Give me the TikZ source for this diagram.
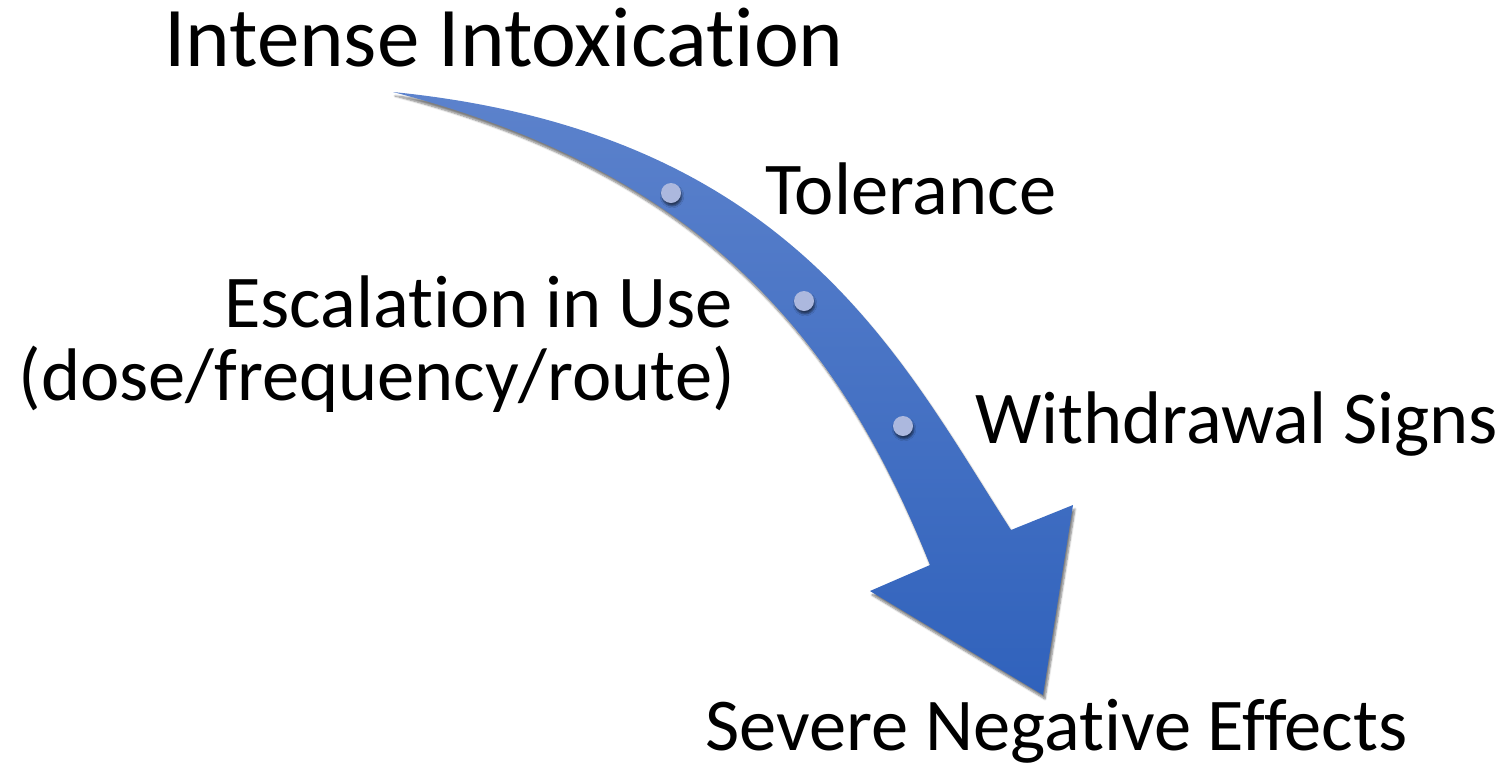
\documentclass[tikz,border=0pt]{standalone}
\usepackage{fontspec}
\setmainfont{Carlito}[Ligatures={NoCommon}]
\usetikzlibrary{shadows.blur}
\definecolor{arrowtop}{RGB}{92,130,204}
\definecolor{arrowbot}{RGB}{48,98,188}
\definecolor{dotfill}{RGB}{172,184,222}
\tikzset{
  arrowbody/.style={top color=arrowtop, bottom color=arrowbot, draw=none,
    blur shadow={shadow xshift=2pt, shadow yshift=-4pt, shadow blur steps=6, shadow opacity=50}},
  stepdot/.style={circle, fill=dotfill, inner sep=0pt, minimum size=20pt,
    blur shadow={shadow xshift=1pt, shadow yshift=-3pt, shadow blur steps=4, shadow opacity=55}},
  lbl/.style={inner sep=0pt, font=\fontsize{74.5}{88}\selectfont},
  title/.style={inner sep=0pt, font=\fontsize{85}{98}\selectfont}
}
\begin{document}
\begin{tikzpicture}[x=1pt,y=-1pt]
\useasboundingbox (0,0) rectangle (1504,766);
\path[arrowbody] (393,92) .. controls (793,132) and (901,360) .. (1011,530)
  -- (1073,505) -- (1043,695) -- (870,591) -- (930,565)
  .. controls (844,350) and (713,175) .. (393,92) -- cycle;
\node[stepdot] (d1) at (671,193) {};
\node[stepdot] (d2) at (804,301) {};
\node[stepdot] (d3) at (903,426) {};
\node[title, anchor=base west] (start) at (164,66) {Intense Intoxication};
\node[lbl, anchor=base west] (tol) at (765,214) {Tolerance};
\node[lbl, anchor=base east] (esc1) at (733,327) {Escalation in Use};
\node[lbl, anchor=base east] (esc2) at (735,400) {(dose/frequency/route)};
\node[lbl, anchor=base west] (wd) at (975,443) {Withdrawal Signs};
\node[lbl, anchor=base west] (end) at (705,750) {Severe Negative Effects};
\end{tikzpicture}
\end{document}
